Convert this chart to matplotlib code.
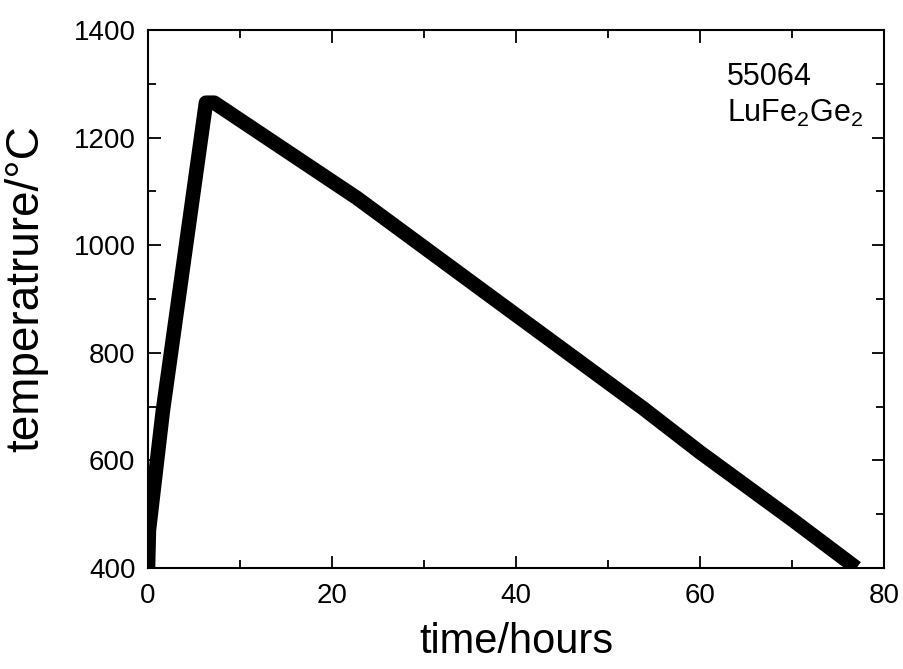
import matplotlib
matplotlib.use("Agg")
import matplotlib.pyplot as plt
from matplotlib.ticker import MultipleLocator

plt.rcParams["font.family"] = ["Liberation Sans", "DejaVu Sans"]
plt.rcParams["mathtext.fontset"] = "custom"
plt.rcParams["mathtext.rm"] = "Liberation Sans"

# furnace program: heating ramp, short dwell, then staged cooling
time_h = [0.0, 0.1, 1.6, 6.3, 7.2, 22.7, 37.0, 53.8, 60.0, 70.0, 77.0]
temp_c = [400, 470, 690, 1265, 1265, 1088, 908, 697, 615, 490, 400]

sample_id = "55064"
compound = r"$\mathregular{LuFe_2Ge_2}$"

fig = plt.figure(figsize=(9.04, 6.69), dpi=100)
ax = fig.add_axes([0.1637, 0.151, 0.978 - 0.1637, 0.955 - 0.151])

ax.plot(time_h, temp_c, color="black", linewidth=10.5,
        solid_joinstyle="round", solid_capstyle="butt", zorder=3)

ax.set_xlim(0, 80)
ax.set_ylim(400, 1400)
ax.xaxis.set_major_locator(MultipleLocator(20))
ax.xaxis.set_minor_locator(MultipleLocator(10))
ax.yaxis.set_major_locator(MultipleLocator(200))
ax.yaxis.set_minor_locator(MultipleLocator(100))

ax.tick_params(which="both", direction="in", top=True, right=True, width=1.3)
ax.tick_params(which="major", length=9, labelsize=20)
ax.tick_params(axis="x", which="major", pad=11)
ax.tick_params(axis="y", which="major", pad=9)
ax.tick_params(which="minor", length=5.5)
for sp in ax.spines.values():
    sp.set_linewidth(1.5)

ax.set_xlabel("time/hours", fontsize=30)
ax.set_ylabel("temperatrure/°C", fontsize=33)
ax.xaxis.set_label_coords(0.5, -0.1)
ax.yaxis.set_label_coords(-0.135, 0.52)

ax.text(0.787, 0.898, sample_id, transform=ax.transAxes, fontsize=22,
        ha="left", va="baseline")
ax.text(0.787, 0.829, compound, transform=ax.transAxes, fontsize=22,
        ha="left", va="baseline")

fig.savefig("out.png", dpi=100)
